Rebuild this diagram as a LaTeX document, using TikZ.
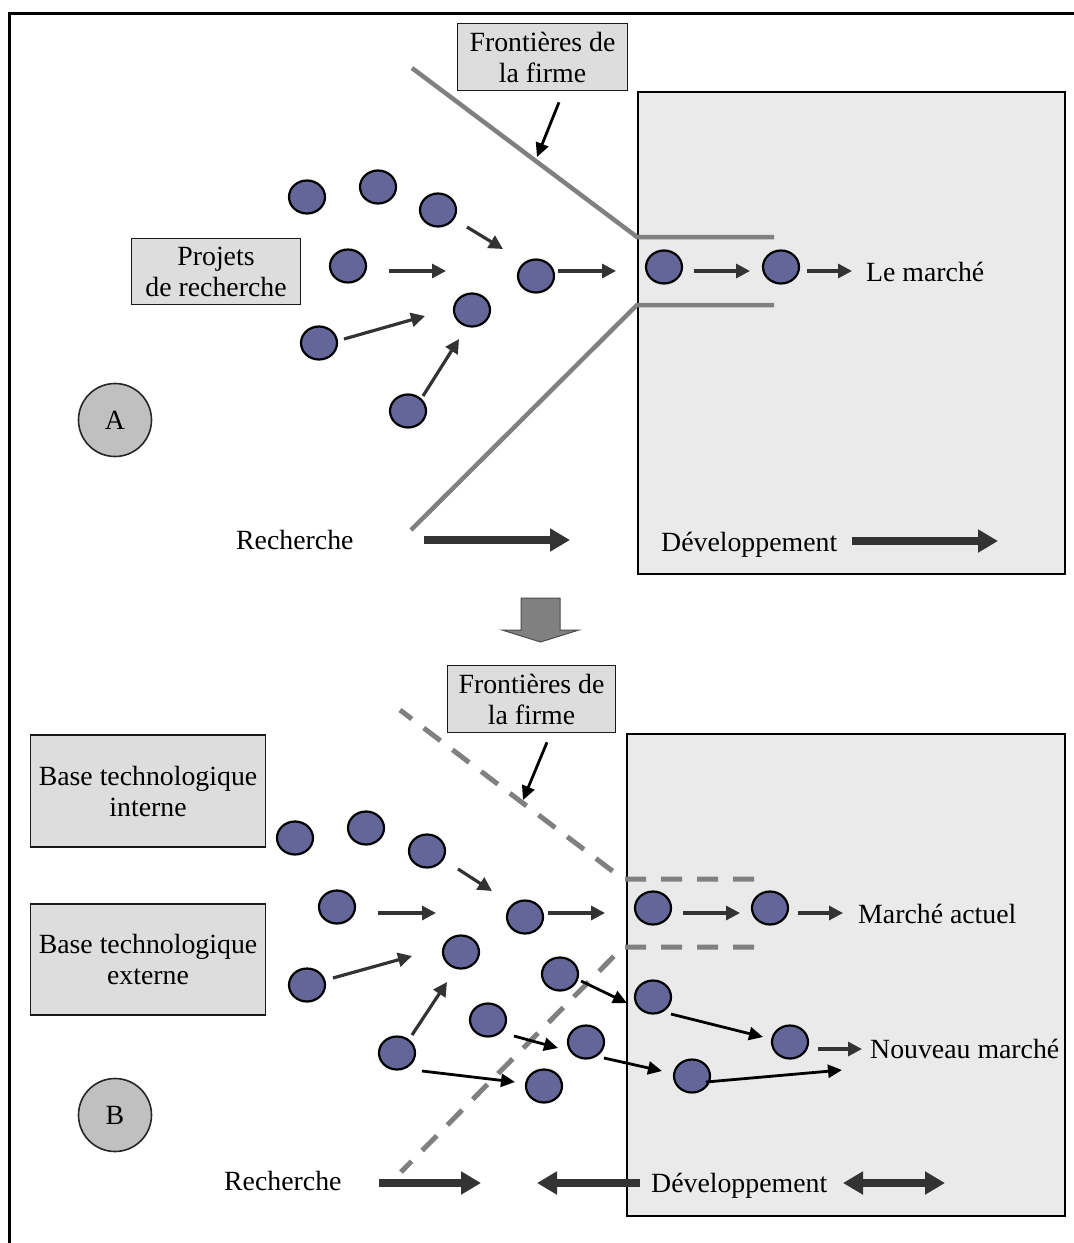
\documentclass[tikz,border=0pt]{standalone}
\usepackage{fontspec}
\setmainfont{Liberation Serif}
\usetikzlibrary{arrows.meta,shapes.geometric}

\definecolor{projfill}{RGB}{100,102,153}
\definecolor{bigfill}{RGB}{234,234,234}
\definecolor{tagfill}{RGB}{221,221,221}
\definecolor{letterfill}{RGB}{192,192,192}
\definecolor{bound}{RGB}{128,128,128}
\definecolor{arrdark}{RGB}{51,51,51}

\newcommand\dgfont{\fontsize{27.8}{31}\selectfont}

\begin{document}
\begin{tikzpicture}[x=1pt,y=-1pt,
  proj/.style={ellipse, draw=black, line width=2.2pt, fill=projfill,
    minimum width=36pt, minimum height=33pt, inner sep=0pt},
  tag/.style={draw=black!90, line width=1.6pt, fill=tagfill, font=\dgfont,
    align=center, inner sep=0pt},
  bigbox/.style={draw=black, line width=2pt, fill=bigfill, inner sep=0pt},
  letter/.style={circle, draw=black!85, line width=1.6pt, fill=letterfill,
    minimum size=73pt, inner sep=0pt, font=\dgfont},
  txt/.style={font=\dgfont, inner sep=0pt, anchor=base west},
  arr/.style={draw=arrdark, line width=3.2pt, -{Triangle[length=14pt,width=14pt]}},
  arrk/.style={draw=black, line width=2.8pt, -{Triangle[length=14pt,width=13pt]}},
  fat/.style={draw=arrdark, line width=8.5pt, -{Triangle[length=20pt,width=22pt]}},
  fatboth/.style={draw=arrdark, line width=8.5pt,
    {Triangle[length=20pt,width=22pt]}-{Triangle[length=20pt,width=22pt]}},
  wall/.style={draw=bound, line width=4.5pt},
  dashwall/.style={draw=bound, line width=5pt, dash pattern=on 21pt off 15pt},
]
\useasboundingbox (0,0) rectangle (1074,1243);

% outer frame (top and left edges)
\draw[line width=3pt] (8,13.5) -- (1074,13.5);
\draw[line width=3pt] (9.5,12) -- (9.5,1243);

% ---------------- A: closed innovation ----------------
\node[bigbox, minimum width=427pt, minimum height=482pt] (boxA) at (851.5,333) {};

\coordinate (wA1) at (412,68);
\coordinate (wA2) at (637,237);
\coordinate (wA3) at (774,237);
\coordinate (wA4) at (774,305);
\coordinate (wA5) at (637,305);
\coordinate (wA6) at (411,530);
\draw[wall] (wA1) -- (wA2) -- (wA3);
\draw[wall] (wA4) -- (wA5) -- (wA6);

\node[tag, minimum width=170pt, minimum height=67pt] (frontA) at (542.5,57) {Frontières de\\la firme};
\node[tag, minimum width=169pt, minimum height=66pt] (projets) at (216,271.5) {Projets\\de recherche};
\node[letter] (letA) at (115,420) {A};

\node[proj] (a1) at (307,197) {};
\node[proj] (a2) at (378,187) {};
\node[proj] (a3) at (438,210) {};
\node[proj] (a4) at (348,266) {};
\node[proj] (a5) at (536,276) {};
\node[proj] (a6) at (472,310) {};
\node[proj] (a7) at (319,343) {};
\node[proj] (a8) at (408,411) {};
\node[proj] (a9) at (664,267) {};
\node[proj] (a10) at (781,267) {};

\node[txt] (marcheA) at (866,281) {Le marché};
\node[txt] (rechA) at (236,549) {Recherche};
\node[txt] (devA) at (661,551) {Développement};

\coordinate (fa) at (537,157);
\draw[arrk] ([shift={(16.5,11)}]frontA.south) -- (fa);

\coordinate (pA1) at (503,249);
\coordinate (pA2) at (446,271);
\coordinate (pA3) at (425,316);
\coordinate (pA4) at (459,339);
\coordinate (pA5) at (616,271);
\coordinate (mA) at (852,271);
\draw[arr] ([shift={(29,17)}]a3.center) -- (pA1);
\draw[arr] ([shift={(41,5)}]a4.center) -- (pA2);
\draw[arr] ([shift={(25,-4)}]a7.center) -- (pA3);
\draw[arr] ([shift={(15,-15)}]a8.center) -- (pA4);
\draw[arr] ([shift={(22,-5)}]a5.center) -- (pA5);
\draw[arr] ([shift={(30,4)}]a9.center) -- ([shift={(-31,4)}]a10.center);
\draw[arr] ([shift={(26,4)}]a10.center) -- (mA);

\coordinate (rA1) at (424,540);
\coordinate (rA2) at (570,540);
\coordinate (dA1) at (852,541);
\coordinate (dA2) at (998,541);
\draw[fat] (rA1) -- (rA2);
\draw[fat] (dA1) -- (dA2);

% transition arrow
\draw[fill=bound, draw=black!70, line width=1pt]
  (521,598) -- (560,598) -- (560,630) -- (579,630) -- (540.5,642)
  -- (502,630) -- (521,630) -- cycle;

% ---------------- B: open innovation ----------------
\node[bigbox, minimum width=438pt, minimum height=482pt] (boxB) at (846,975) {};

\coordinate (wB1) at (400,710);
\coordinate (wB2) at (623,879);
\coordinate (wB3) at (754,879);
\coordinate (wB4) at (754,947);
\coordinate (wB5) at (623,947);
\coordinate (wB6) at (401,1172);
\draw[dashwall] (wB3) -- (wB2) -- (wB1);
\draw[dashwall] (wB4) -- (wB5) -- (wB6);

\node[tag, minimum width=168pt, minimum height=67pt] (frontB) at (531.5,699) {Frontières de\\la firme};
\node[tag, minimum width=235pt, minimum height=112pt] (baseint) at (148,791) {Base technologique\\interne};
\node[tag, minimum width=235pt, minimum height=111pt] (baseext) at (148,959.5) {Base technologique\\externe};
\node[letter] (letB) at (115,1115) {B};

\node[proj] (b1) at (295,838) {};
\node[proj] (b2) at (366,828) {};
\node[proj] (b3) at (427,851) {};
\node[proj] (b4) at (337,907) {};
\node[proj] (b5) at (525,917) {};
\node[proj] (b6) at (461,952) {};
\node[proj] (b7) at (307,985) {};
\node[proj] (b8) at (397,1053) {};
\node[proj] (b9) at (653,908) {};
\node[proj] (b10) at (770,908) {};
\node[proj] (b11) at (560,974) {};
\node[proj] (b12) at (488,1020) {};
\node[proj] (b13) at (586,1042) {};
\node[proj] (b14) at (544,1086) {};
\node[proj] (b15) at (653,997) {};
\node[proj] (b16) at (790,1042) {};
\node[proj] (b17) at (692,1076) {};

\node[txt] (actuel) at (858,923) {Marché actuel};
\node[txt] (nouveau) at (870,1058) {Nouveau marché};
\node[txt] (rechB) at (224,1190) {Recherche};
\node[txt] (devB) at (651,1192) {Développement};

\coordinate (fb) at (523,800);
\draw[arrk] ([shift={(15.5,9)}]frontB.south) -- (fb);

\coordinate (pB1) at (492,891);
\coordinate (pB2) at (436,913);
\coordinate (pB3) at (605,913);
\coordinate (pB4) at (412,956);
\coordinate (pB5) at (447,982);
\coordinate (mB) at (843,913);
\coordinate (nB1) at (842,1070);
\coordinate (nB2) at (862,1049);
\draw[arr] ([shift={(31,18)}]b3.center) -- (pB1);
\draw[arr] ([shift={(41,6)}]b4.center) -- (pB2);
\draw[arr] ([shift={(23,-4)}]b5.center) -- (pB3);
\draw[arr] ([shift={(30,5)}]b9.center) -- ([shift={(-30,5)}]b10.center);
\draw[arr] ([shift={(28,5)}]b10.center) -- (mB);
\draw[arr] ([shift={(26,-7)}]b7.center) -- (pB4);
\draw[arr] ([shift={(15,-18)}]b8.center) -- (pB5);
\draw[arrk] ([shift={(25,18)}]b8.center) -- ([shift={(-29,-4)}]b14.center);
\draw[arrk] ([shift={(26,16)}]b12.center) -- ([shift={(-28,6)}]b13.center);
\draw[arrk] ([shift={(21,7)}]b11.center) -- ([shift={(-26,6)}]b15.center);
\draw[arrk] ([shift={(18,16)}]b13.center) -- ([shift={(-30,-5)}]b17.center);
\draw[arrk] ([shift={(18,17)}]b15.center) -- ([shift={(-27,-5)}]b16.center);
\draw[arrk] ([shift={(14,6)}]b17.center) -- (nB1);
\draw[arr] ([shift={(28,7)}]b16.center) -- (nB2);

\coordinate (rB1) at (379,1183);
\coordinate (rB2) at (481,1183);
\coordinate (lB1) at (640,1183);
\coordinate (lB2) at (537,1183);
\coordinate (dB1) at (843,1183);
\coordinate (dB2) at (945,1183);
\draw[fat] (rB1) -- (rB2);
\draw[fat] (lB1) -- (lB2);
\draw[fatboth] (dB1) -- (dB2);

\end{tikzpicture}
\end{document}
